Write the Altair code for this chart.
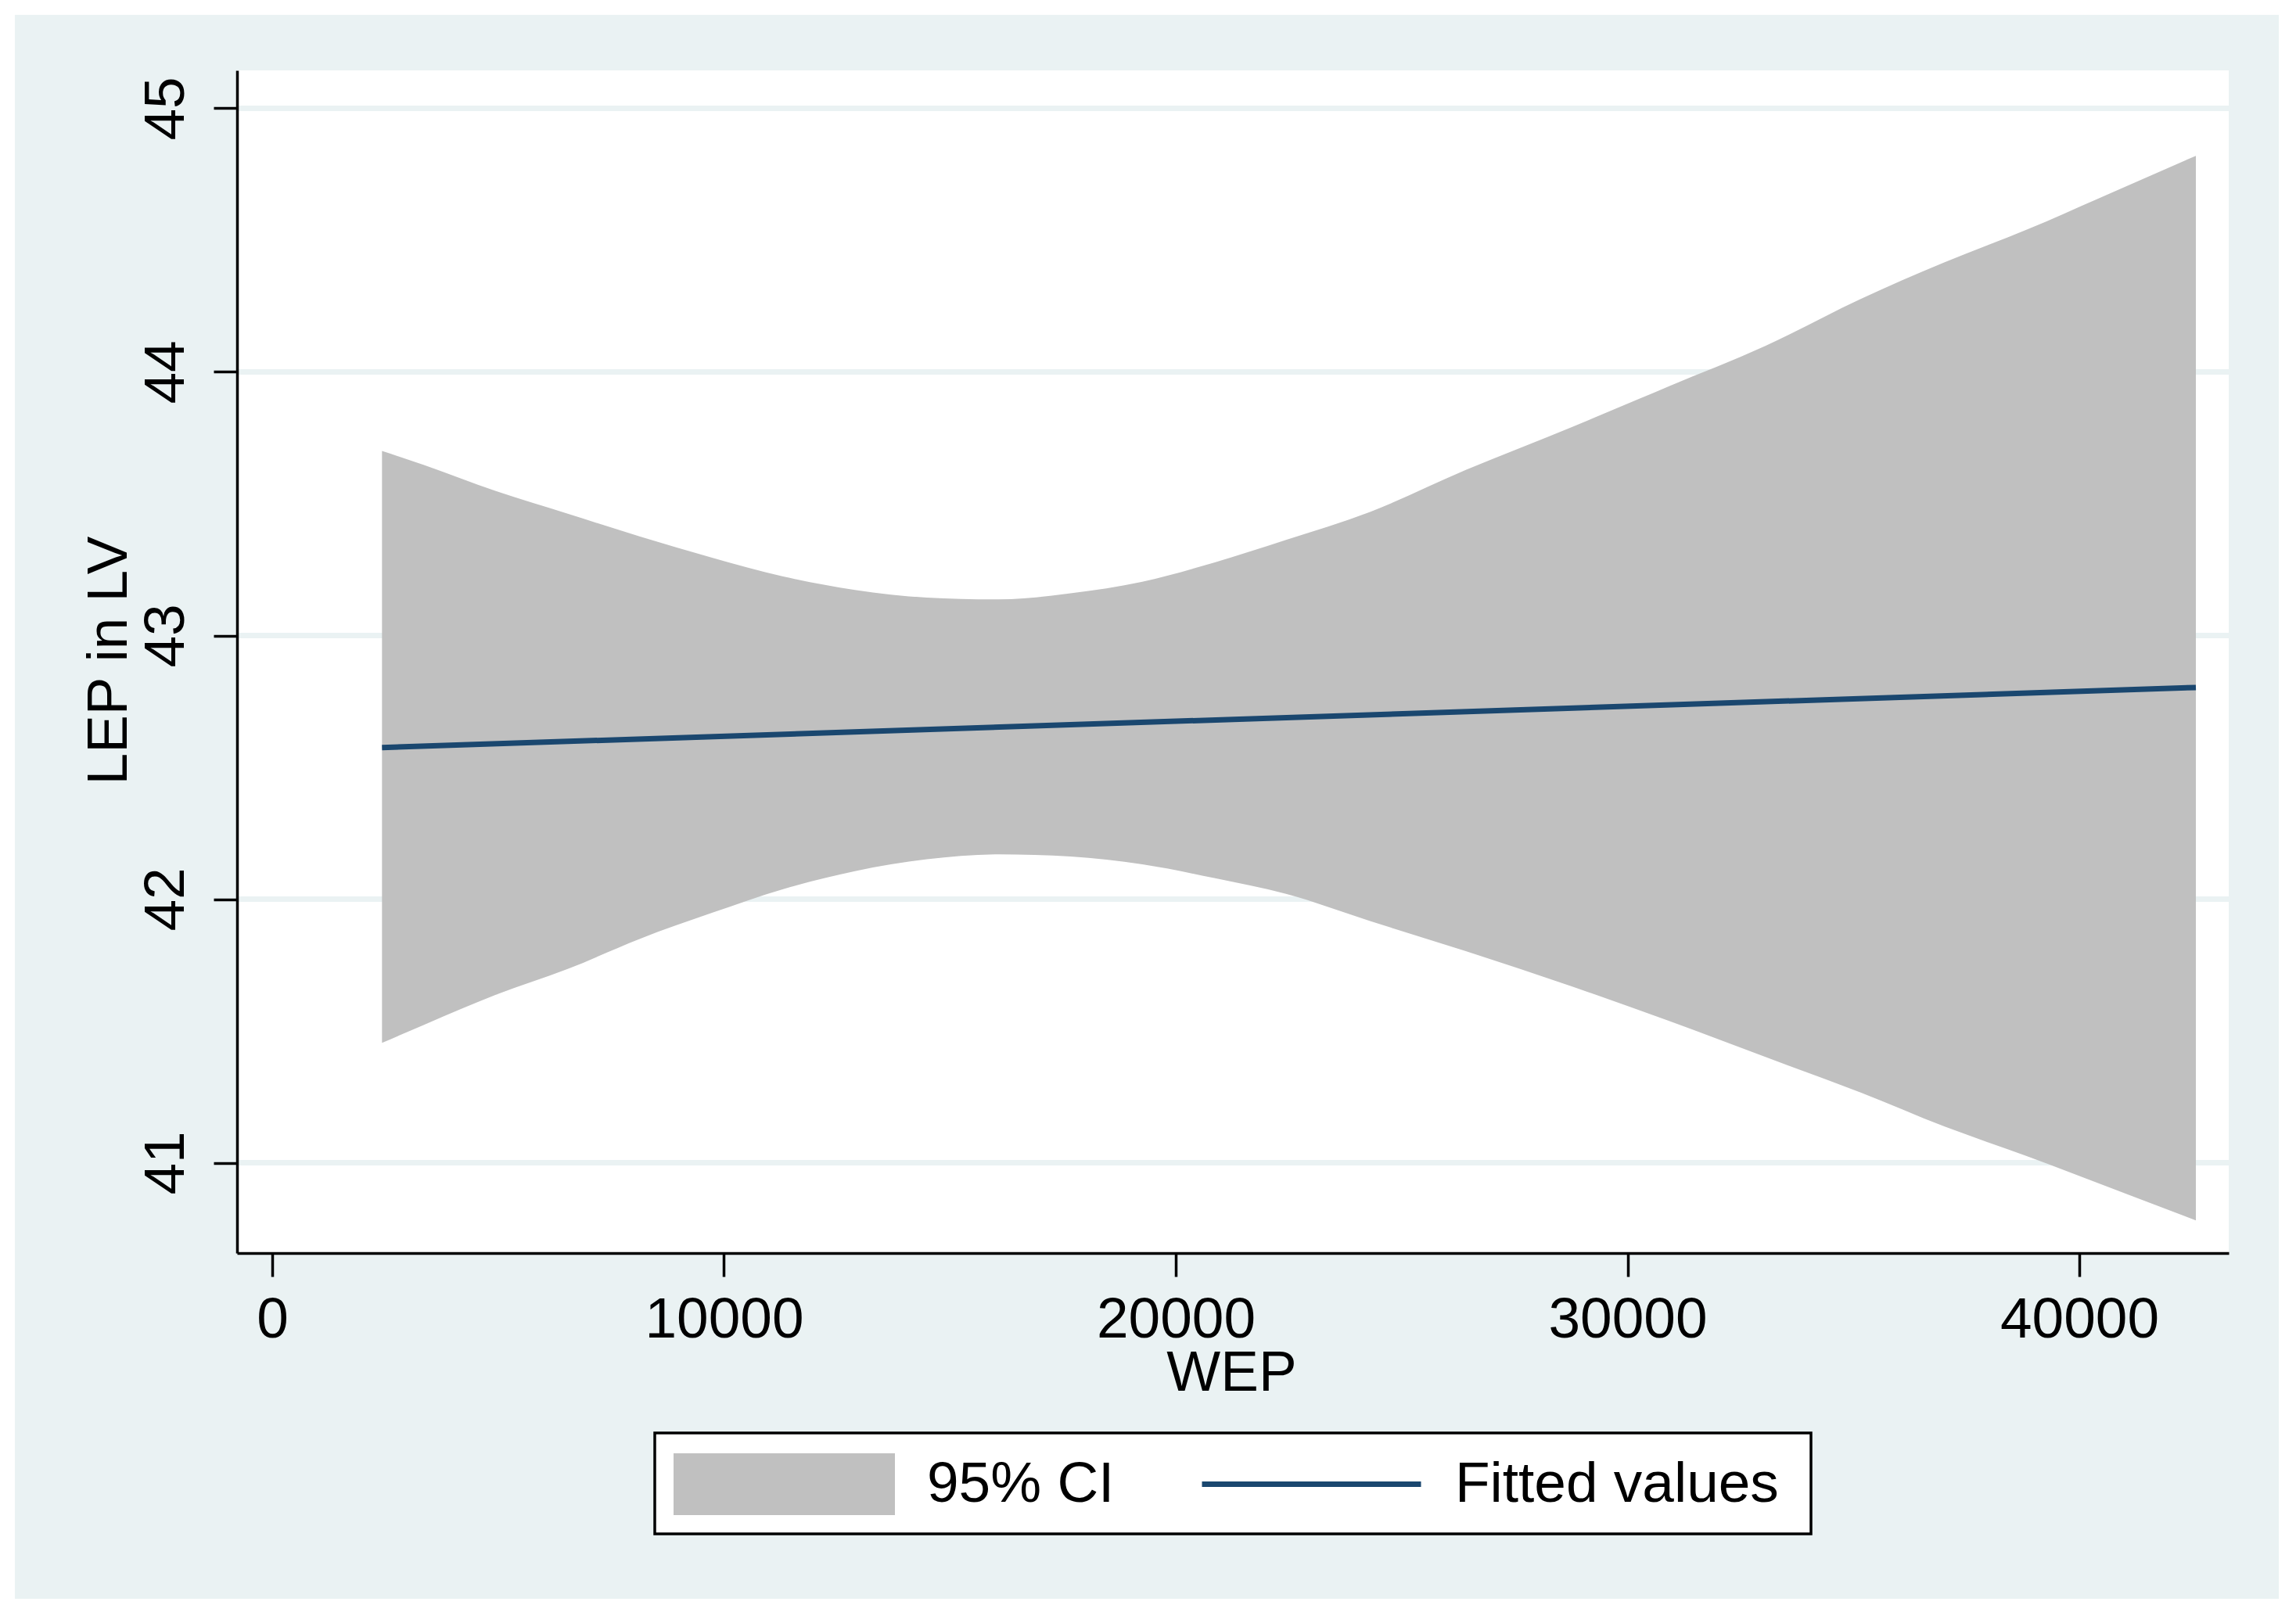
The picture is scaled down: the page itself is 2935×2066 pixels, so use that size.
import altair as alt
import pandas as pd

# ---- data ----
wep = [2430, 3360, 4950, 6540, 8130, 9720, 11310, 12900, 14490, 16080, 17670, 19260,
       20850, 22440, 24300, 26420, 28800, 30920, 33040, 35160, 37020, 38870, 40730, 42580]
ci_upper = [43.700, 43.647, 43.548, 43.462, 43.376, 43.296, 43.224, 43.173, 43.144, 43.137,
            43.160, 43.204, 43.277, 43.363, 43.469, 43.628, 43.793, 43.946, 44.098, 44.277,
            44.416, 44.542, 44.681, 44.820]
ci_lower = [41.455, 41.523, 41.637, 41.735, 41.849, 41.947, 42.038, 42.106, 42.151, 42.170,
            42.162, 42.132, 42.080, 42.020, 41.917, 41.803, 41.667, 41.538, 41.402, 41.266,
            41.137, 41.023, 40.902, 40.781]
fit_wep = [2430, 42580]
fit_lep = [42.575, 42.803]
x_ticks = [0, 10000, 20000, 30000, 40000]
y_ticks = [41, 42, 43, 44, 45]
series_ci = ["95% CI"]
series_fit = ["Fitted values"]

band_df = pd.DataFrame({"WEP": wep, "upper": ci_upper, "lower": ci_lower,
                        "series": series_ci * len(wep)})
fit_df = pd.DataFrame({"WEP": fit_wep, "LEP": fit_lep, "series": series_fit * len(fit_wep)})
grid_df = pd.DataFrame({"tick": y_ticks})

# ---- styling ----
BG = "#EAF2F3"
CI_COL = "#C0C0C0"
FIT_COL = "#1A476F"
FONT = "Liberation Sans"
FS = 73
W, H = 2546, 1512

x_scale = alt.Scale(domain=[-779, 43307], nice=False, zero=False)
y_scale = alt.Scale(domain=[40.6573, 45.1439], nice=False, zero=False)

x_axis = alt.Axis(values=x_ticks, format="d", title="WEP", grid=False,
                  tickSize=30, tickWidth=3.5, tickColor="black",
                  domainWidth=3.5, domainColor="black",
                  labelFont=FONT, labelFontSize=FS, labelColor="black",
                  labelBaseline="alphabetic", labelPadding=77, labelAlign="center",
                  labelLimit=2000, labelOverlap=False,
                  titleFont=FONT, titleFontSize=FS, titleFontWeight="normal", titleColor="black",
                  titleBaseline="alphabetic", titleAlign="center", titleX=1271, titleY=175,
                  zindex=1)
y_axis = alt.Axis(values=y_ticks, format="d", title="LEP in LV", grid=False,
                  tickSize=30, tickWidth=3.5, tickColor="black",
                  domainWidth=3.5, domainColor="black",
                  labelFont=FONT, labelFontSize=FS, labelColor="black",
                  labelAngle=270, labelAlign="center", labelBaseline="alphabetic",
                  labelPadding=39, labelLimit=2000, labelOverlap=False,
                  titleFont=FONT, titleFontSize=FS, titleFontWeight="normal", titleColor="black",
                  titleAngle=270, titleBaseline="alphabetic", titleAlign="center",
                  titleX=-142, titleY=754, zindex=1)

one = alt.Data(values=[{"k": 1}])

outer_bg = alt.Chart(one).mark_rect(fill=BG).encode(
    x=alt.value(-284), x2=alt.value(2610), y=alt.value(-71), y2=alt.value(1954))
plot_bg = alt.Chart(one).mark_rect(fill="white").encode(
    x=alt.value(0), x2=alt.value(W), y=alt.value(0), y2=alt.value(H))
legend_box = alt.Chart(one).mark_rect(fill="white", stroke="black", strokeWidth=3.5).encode(
    x=alt.value(534), x2=alt.value(2012), y=alt.value(1742), y2=alt.value(1871))

grid = alt.Chart(grid_df).mark_rule(color=BG, strokeWidth=7).encode(
    y=alt.Y("tick:Q", scale=y_scale, axis=y_axis))

leg_fill = alt.Legend(title=None, orient="none", legendX=558, legendY=1666, padding=0,
                      symbolType="M-1,-0.279L1,-0.279L1,0.279L-1,0.279Z",
                      symbolSize=80089, symbolStrokeWidth=0, symbolOpacity=1,
                      labelOffset=41, labelFont=FONT, labelFontSize=FS,
                      labelColor="black", labelLimit=2000)
leg_stroke = alt.Legend(title=None, orient="none", legendX=1230, legendY=1664, padding=0,
                        symbolType="stroke", symbolSize=78400, symbolStrokeWidth=7,
                        labelOffset=40, labelFont=FONT, labelFontSize=FS,
                        labelColor="black", labelLimit=2000)

band = alt.Chart(band_df).mark_area(opacity=1, interpolate="monotone").encode(
    x=alt.X("WEP:Q", scale=x_scale, axis=x_axis),
    y=alt.Y("lower:Q", scale=y_scale, axis=y_axis),
    y2="upper:Q",
    fill=alt.Fill("series:N", scale=alt.Scale(domain=series_ci, range=[CI_COL]), legend=leg_fill),
)

fit = alt.Chart(fit_df).mark_line(strokeWidth=7).encode(
    x=alt.X("WEP:Q", scale=x_scale, axis=x_axis),
    y=alt.Y("LEP:Q", scale=y_scale, axis=y_axis),
    stroke=alt.Stroke("series:N", scale=alt.Scale(domain=series_fit, range=[FIT_COL]),
                      legend=leg_stroke),
)

chart = alt.layer(outer_bg, plot_bg, legend_box, grid, band, fit).resolve_scale(
    fill="independent", stroke="independent"
).properties(
    width=W, height=H,
    autosize=alt.AutoSizeParams(type="none"),
    padding={"left": 295, "top": 82, "right": 70, "bottom": 450},
    background="white",
).configure_view(strokeWidth=0)

chart.save("out.html", embed_options={"renderer": "svg", "actions": False})
